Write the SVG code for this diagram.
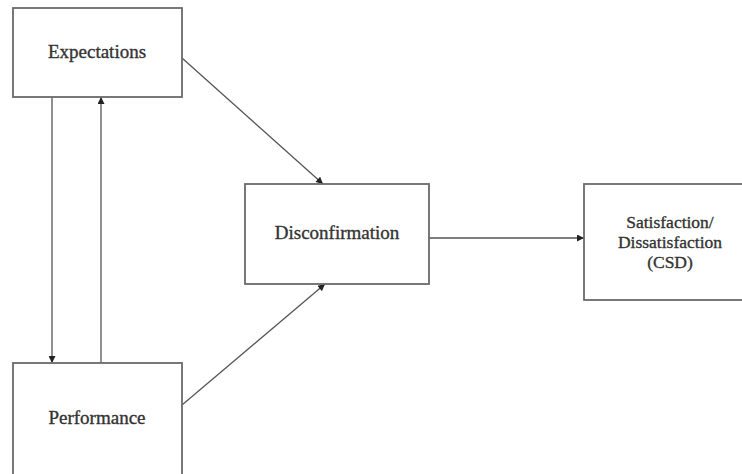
<svg xmlns="http://www.w3.org/2000/svg" width="742" height="474" viewBox="0 0 742 474">
<style>
.box{fill:#fff;stroke:#6a6a6a;stroke-width:1.8}
.lbl{font-family:"Liberation Serif","Times New Roman",serif;font-size:19px;fill:#333;stroke:#333;stroke-width:0.35;text-anchor:middle}
.sm{font-size:17.5px}
.con{stroke:#555;stroke-width:1.3;fill:none;marker-end:url(#ah)}
</style>
<defs>
<marker id="ah" viewBox="0 0 10 10" refX="10" refY="5" markerWidth="8" markerHeight="7" markerUnits="userSpaceOnUse" orient="auto"><path d="M0,0 L10,5 L0,10 z" fill="#222"/></marker>
</defs>
<rect width="742" height="474" fill="#fff"/>
<g id="connectors">
<line class="con" x1="52" y1="97" x2="52" y2="363"/>
<line class="con" x1="101" y1="363" x2="101" y2="97"/>
<line class="con" x1="182" y1="58" x2="323" y2="184"/>
<line class="con" x1="182" y1="405" x2="325" y2="284"/>
<line class="con" x1="429" y1="238" x2="584" y2="238"/>
</g>
<g id="expectations">
<rect class="box" x="13" y="8" width="169" height="89"/>
<text class="lbl" x="97" y="58">Expectations</text>
</g>
<g id="performance">
<rect class="box" x="13" y="363" width="169" height="115"/>
<text class="lbl" x="97" y="424">Performance</text>
</g>
<g id="disconfirmation">
<rect class="box" x="245" y="184" width="184" height="100"/>
<text class="lbl" x="337" y="239">Disconfirmation</text>
</g>
<g id="csd">
<rect class="box" x="584" y="184" width="170" height="116"/>
<text class="lbl sm" x="670" y="228">Satisfaction/</text>
<text class="lbl sm" x="670" y="248">Dissatisfaction</text>
<text class="lbl sm" x="670" y="268">(CSD)</text>
</g>
</svg>
